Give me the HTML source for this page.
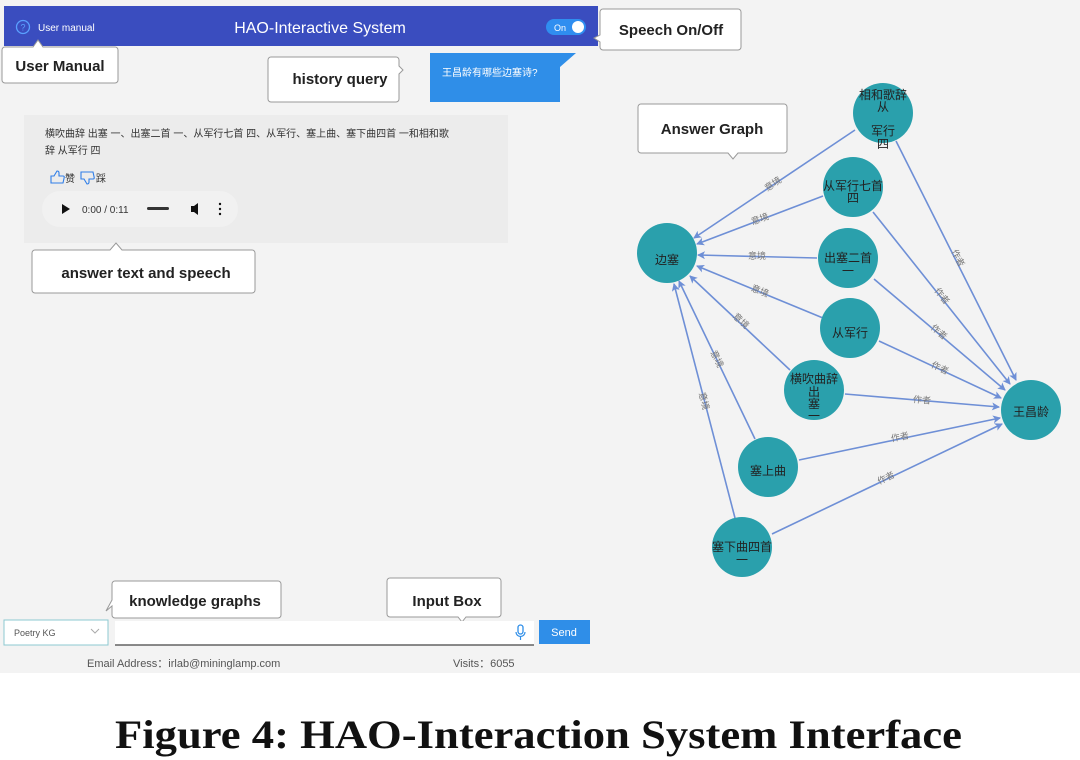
<!DOCTYPE html>
<html><head><meta charset="utf-8"><style>
html,body{margin:0;padding:0;width:1080px;height:760px;overflow:hidden;background:#fff}
svg{display:block}
.cj{font-family:"Liberation Sans","Noto Sans CJK SC",sans-serif}
.cb{font-family:"Liberation Sans",sans-serif;font-weight:bold;fill:#222}
</style></head><body>
<svg width="1080" height="760" viewBox="0 0 1080 760" xmlns="http://www.w3.org/2000/svg">
<defs>
<marker id="ar" markerWidth="8" markerHeight="8" refX="7" refY="4" orient="auto" markerUnits="userSpaceOnUse">
<path d="M0,0 L8,4 L0,8 L2,4 z" fill="#6e8fd6"/></marker>
</defs>
<rect x="0" y="0" width="1080" height="673" fill="#f3f3f3"/>
<!-- header -->
<rect x="4" y="6" width="594" height="40" fill="#3a4dbf"/>
<circle cx="23" cy="27" r="6.5" fill="none" stroke="#5aa0ff" stroke-width="1.3"/>
<text x="23" y="30.5" font-size="9" fill="#5aa0ff" text-anchor="middle" class="cj">?</text>
<text x="38" y="31" font-size="10" fill="#fff" class="cj">User manual</text>
<text x="320" y="33" font-size="16" fill="#fff" text-anchor="middle" class="cj">HAO-Interactive System</text>
<rect x="546" y="19" width="40" height="16" rx="8" fill="#2f8ef0"/>
<text x="554" y="31" font-size="9" fill="#fff" class="cj">On</text>
<circle cx="578" cy="27" r="6" fill="#fff"/>
<!-- speech callout -->
<path d="M603,9 H738 a3,3 0 0 1 3,3 V47 a3,3 0 0 1 -3,3 H603 a3,3 0 0 1 -3,-3 V42 L594,38 L600,35 V12 a3,3 0 0 1 3,-3z" fill="#fff" stroke="#999"/>
<text x="671" y="35" font-size="15" class="cb" text-anchor="middle">Speech On/Off</text>
<!-- user manual callout -->
<path d="M5,47 H33 L38,40 L43,47 H115 a3,3 0 0 1 3,3 V80 a3,3 0 0 1 -3,3 H5 a3,3 0 0 1 -3,-3 V50 a3,3 0 0 1 3,-3z" fill="#fff" stroke="#999"/>
<text x="60" y="71" font-size="15" class="cb" text-anchor="middle">User Manual</text>
<!-- history query -->
<path d="M271,57 H396 a3,3 0 0 1 3,3 V66 L403,70 L399,74 V99 a3,3 0 0 1 -3,3 H271 a3,3 0 0 1 -3,-3 V60 a3,3 0 0 1 3,-3z" fill="#fff" stroke="#999"/>
<text x="340" y="84" font-size="15" class="cb" text-anchor="middle">history query</text>
<path d="M430,53 H576 L560,67 V102 H430 z" fill="#2f8ee8"/>
<text x="442" y="76" font-size="10" fill="#fff" class="cj">王昌龄有哪些边塞诗?</text>
<!-- answer panel -->
<rect x="24" y="115" width="484" height="128" fill="#ececec"/>
<text x="45" y="137" font-size="10" fill="#333" class="cj">横吹曲辞 出塞 一、出塞二首 一、从军行七首 四、从军行、塞上曲、塞下曲四首 一和相和歌</text>
<text x="45" y="154" font-size="10" fill="#333" class="cj">辞 从军行 四</text>
<path d="M51,183 v-7 h3 l3,-5 q2,0 2,2 v3 h4 q1.5,0 1.2,1.5 l-1.2,5.5 z" fill="none" stroke="#2f7ee8" stroke-width="1.1"/>
<text x="65" y="182" font-size="10" fill="#333" class="cj">赞</text>
<path d="M81,172 v7 h3 l3,5 q2,0 2,-2 v-3 h4 q1.5,0 1.2,-1.5 l-1.2,-5.5 z" fill="none" stroke="#2f7ee8" stroke-width="1.1"/>
<text x="96" y="182" font-size="10" fill="#333" class="cj">踩</text>
<rect x="42" y="191" width="196" height="36" rx="18" fill="#f1f1f1"/>
<path d="M62,204 L70,209 L62,214z" fill="#111"/>
<text x="82" y="213" font-size="10" fill="#333" class="cj">0:00 / 0:11</text>
<rect x="147" y="207" width="22" height="3" rx="1.5" fill="#333"/>
<path d="M191,206 h3 l4,-3 v12 l-4,-3 h-3z" fill="#111"/>
<circle cx="220" cy="204" r="1.2" fill="#111"/><circle cx="220" cy="209" r="1.2" fill="#111"/><circle cx="220" cy="214" r="1.2" fill="#111"/>
<!-- answer text callout -->
<path d="M35,250 H110 L116,243 L122,250 H252 a3,3 0 0 1 3,3 V290 a3,3 0 0 1 -3,3 H35 a3,3 0 0 1 -3,-3 V253 a3,3 0 0 1 3,-3z" fill="#fff" stroke="#999"/>
<text x="146" y="278" font-size="15" class="cb" text-anchor="middle">answer text and speech</text>
<!-- Answer graph callout -->
<path d="M641,104 H784 a3,3 0 0 1 3,3 V150 a3,3 0 0 1 -3,3 H738 L733,159 L728,153 H641 a3,3 0 0 1 -3,-3 V107 a3,3 0 0 1 3,-3z" fill="#fff" stroke="#999"/>
<text x="712" y="134" font-size="15" class="cb" text-anchor="middle">Answer Graph</text>
<!-- edges -->
<g stroke="#6e8fd6" stroke-width="1.6" fill="none" marker-end="url(#ar)">
<line x1="855" y1="130" x2="694" y2="238"/>
<line x1="823" y1="196" x2="697" y2="244"/>
<line x1="817" y1="258" x2="698" y2="255"/>
<line x1="823" y1="318" x2="697" y2="266"/>
<line x1="790" y1="370" x2="690" y2="276"/>
<line x1="755" y1="439" x2="679" y2="281"/>
<line x1="735" y1="518" x2="674" y2="284"/>
<line x1="896" y1="141" x2="1016" y2="380"/>
<line x1="873" y1="212" x2="1010" y2="384"/>
<line x1="874" y1="279" x2="1005" y2="390"/>
<line x1="879" y1="341" x2="1001" y2="398"/>
<line x1="845" y1="394" x2="999" y2="407"/>
<line x1="799" y1="460" x2="1000" y2="418"/>
<line x1="772" y1="534" x2="1002" y2="424"/>
</g>
<g font-size="9" fill="#777" class="cj" text-anchor="middle">
<text x="773" y="187" transform="rotate(-34 773 184)">意境</text>
<text x="760" y="222" transform="rotate(-20 760 219)">意境</text>
<text x="757" y="259">意境</text>
<text x="760" y="294" transform="rotate(22 760 291)">意境</text>
<text x="741" y="324" transform="rotate(43 741 321)">意境</text>
<text x="717" y="362" transform="rotate(64 717 359)">意境</text>
<text x="704" y="404" transform="rotate(76 704 401)">意境</text>
<text x="958" y="261" transform="rotate(63 958 258)">作者</text>
<text x="942" y="299" transform="rotate(51 942 296)">作者</text>
<text x="939" y="335" transform="rotate(40 939 332)">作者</text>
<text x="940" y="371" transform="rotate(25 940 368)">作者</text>
<text x="922" y="403" transform="rotate(5 922 400)">作者</text>
<text x="900" y="440" transform="rotate(-12 900 437)">作者</text>
<text x="886" y="481" transform="rotate(-26 886 478)">作者</text>
</g>
<!-- nodes -->
<g fill="#2aa0ac">
<circle cx="883" cy="113" r="30"/><circle cx="853" cy="187" r="30"/><circle cx="848" cy="258" r="30"/>
<circle cx="850" cy="328" r="30"/><circle cx="814" cy="390" r="30"/><circle cx="768" cy="467" r="30"/>
<circle cx="742" cy="547" r="30"/><circle cx="667" cy="253" r="30"/><circle cx="1031" cy="410" r="30"/>
</g>
<g font-size="12" fill="#222" class="cj" text-anchor="middle">
<text x="883" y="99">相和歌辞</text><text x="883" y="111">从</text><text x="883" y="135">军行</text><text x="883" y="148">四</text>
<text x="853" y="190">从军行七首</text><text x="853" y="202">四</text>
<text x="848" y="262">出塞二首</text><text x="848" y="275">一</text>
<text x="850" y="337">从军行</text>
<text x="814" y="383">横吹曲辞</text><text x="814" y="396">出</text><text x="814" y="408">塞</text><text x="814" y="420">一</text>
<text x="768" y="475">塞上曲</text>
<text x="742" y="551">塞下曲四首</text><text x="742" y="564">一</text>
<text x="667" y="264">边塞</text>
<text x="1031" y="416">王昌龄</text>
</g>
<!-- bottom -->
<path d="M115,581 H278 a3,3 0 0 1 3,3 V615 a3,3 0 0 1 -3,3 H115 a3,3 0 0 1 -3,-3 V606 L106,611 L112,600 V584 a3,3 0 0 1 3,-3z" fill="#fff" stroke="#999"/>
<text x="195" y="606" font-size="15" class="cb" text-anchor="middle">knowledge graphs</text>
<path d="M390,578 H498 a3,3 0 0 1 3,3 V614 a3,3 0 0 1 -3,3 H466 L462,622 L458,617 H390 a3,3 0 0 1 -3,-3 V581 a3,3 0 0 1 3,-3z" fill="#fff" stroke="#999"/>
<text x="447" y="606" font-size="15" class="cb" text-anchor="middle">Input Box</text>
<rect x="4" y="620" width="104" height="25" fill="#fff" stroke="#8cc8d0"/>
<text x="14" y="636" font-size="9" fill="#555" class="cj">Poetry KG</text>
<path d="M91,629 l4,4 l4,-4" fill="none" stroke="#aaa"/>
<rect x="115" y="621" width="419" height="24" fill="#fff"/>
<line x1="115" y1="645" x2="534" y2="645" stroke="#444" stroke-width="1.3"/>
<rect x="518" y="625" width="5" height="9" rx="2.5" fill="none" stroke="#2f8ee8" stroke-width="1.3"/>
<path d="M516,632 a4.5,4.5 0 0 0 9,0 M520.5,637 v3" fill="none" stroke="#2f8ee8" stroke-width="1.2"/>
<rect x="539" y="620" width="51" height="24" fill="#2f8ee8"/>
<text x="564" y="636" font-size="11" fill="#fff" text-anchor="middle" class="cj">Send</text>
<text x="87" y="667" font-size="11" fill="#555" class="cj">Email Address：irlab@mininglamp.com</text>
<text x="453" y="667" font-size="11" fill="#555" class="cj">Visits：6055</text>
<!-- caption -->
<text x="115" y="748" font-size="40" font-weight="bold" font-family="Liberation Serif, serif" fill="#111" textLength="847" lengthAdjust="spacingAndGlyphs">Figure 4: HAO-Interaction System Interface</text>
</svg>
</body></html>
